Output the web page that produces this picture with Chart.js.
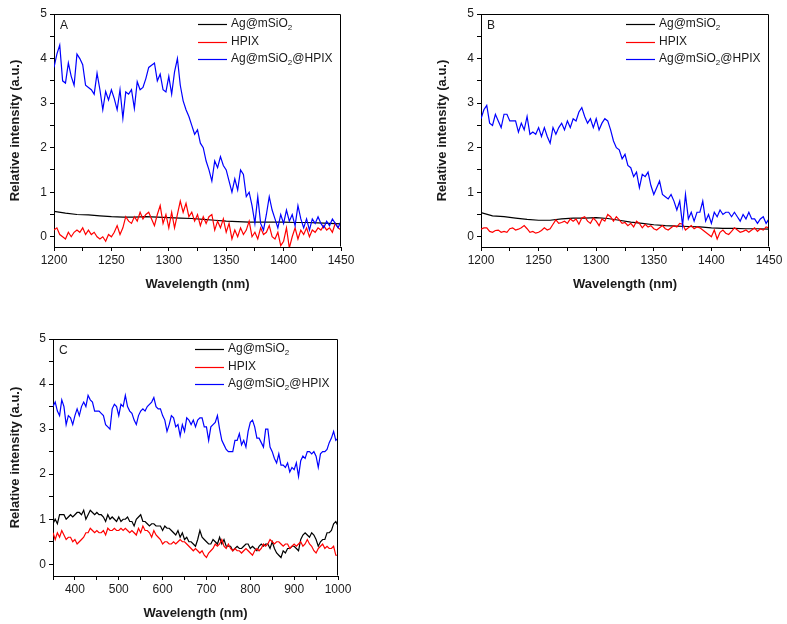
<!DOCTYPE html>
<html>
<head>
<meta charset="utf-8">
<script src="https://cdn.jsdelivr.net/npm/chart.js@4.4.0/dist/chart.umd.min.js"></script>
<style>
  html, body { margin: 0; padding: 0; background: #fff; }
  body { position: relative; width: 787px; height: 624px; overflow: hidden; }
  canvas { position: absolute; }
  #panelA { left: 0; top: 0; }
  #panelB { left: 427px; top: 0; }
  #panelC { left: 0; top: 325px; }
</style>
</head>
<body>
<canvas id="panelA" width="360" height="296"></canvas>
<canvas id="panelB" width="360" height="296"></canvas>
<canvas id="panelC" width="360" height="300"></canvas>
<script>
// ── DATA ──

const SERIES_LABELS = ['Ag@mSiO₂', 'HPIX', 'Ag@mSiO₂@HPIX'];

// wavelengths (nm), panels A and B
const WL_AB = [
  1200, 1202.5, 1205, 1207.5, 1210, 1212.5, 1215, 1217.5, 1220, 1222.5,
  1225, 1227.5, 1230, 1232.5, 1235, 1237.5, 1240, 1242.5, 1245, 1247.5,
  1250, 1252.5, 1255, 1257.5, 1260, 1262.5, 1265, 1267.5, 1270, 1272.5,
  1275, 1277.5, 1280, 1282.5, 1285, 1287.5, 1290, 1292.5, 1295, 1297.5,
  1300, 1302.5, 1305, 1307.5, 1310, 1312.5, 1315, 1317.5, 1320, 1322.5,
  1325, 1327.5, 1330, 1332.5, 1335, 1337.5, 1340, 1342.5, 1345, 1347.5,
  1350, 1352.5, 1355, 1357.5, 1360, 1362.5, 1365, 1367.5, 1370, 1372.5,
  1375, 1377.5, 1380, 1382.5, 1385, 1387.5, 1390, 1392.5, 1395, 1397.5,
  1400, 1402.5, 1405, 1407.5, 1410, 1412.5, 1415, 1417.5, 1420, 1422.5,
  1425, 1427.5, 1430, 1432.5, 1435, 1437.5, 1440, 1442.5, 1445, 1447.5,
  1450
];
const WL_AB_COARSE = [
  1200, 1210, 1220, 1230, 1240, 1250, 1260, 1270, 1280, 1290,
  1300, 1310, 1320, 1330, 1340, 1350, 1360, 1370, 1380, 1390,
  1400, 1410, 1420, 1430, 1440, 1450
];

// wavelengths (nm), panel C
const WL_C = [
  350, 355, 360, 365, 370, 375, 380, 385, 390, 395,
  400, 405, 410, 415, 420, 425, 430, 435, 440, 445,
  450, 455, 460, 465, 470, 475, 480, 485, 490, 495,
  500, 505, 510, 515, 520, 525, 530, 535, 540, 545,
  550, 555, 560, 565, 570, 575, 580, 585, 590, 595,
  600, 605, 610, 615, 620, 625, 630, 635, 640, 645,
  650, 655, 660, 665, 670, 675, 680, 685, 690, 695,
  700, 705, 710, 715, 720, 725, 730, 735, 740, 745,
  750, 755, 760, 765, 770, 775, 780, 785, 790, 795,
  800, 805, 810, 815, 820, 825, 830, 835, 840, 845,
  850, 855, 860, 865, 870, 875, 880, 885, 890, 895,
  900, 905, 910, 915, 920, 925, 930, 935, 940, 945,
  950, 955, 960, 965, 970, 975, 980, 985, 990, 995,
  1000
];

// panel A
const A_AGMSIO2 = [
  0.57, 0.53, 0.5, 0.49, 0.47, 0.45, 0.44, 0.44, 0.45, 0.44,
  0.43, 0.42, 0.41, 0.39, 0.37, 0.35, 0.34, 0.33, 0.33, 0.33,
  0.33, 0.32, 0.32, 0.31, 0.3, 0.29
];
const A_HPIX = [
  0.15, 0.2, 0.05, 0.0, -0.05, 0.1, 0.0, 0.1, 0.15, 0.1,
  0.2, 0.05, 0.15, 0.05, 0.1, 0.0, -0.05, 0.0, -0.1, 0.05,
  0.0, 0.1, 0.25, 0.05, 0.2, 0.45, 0.35, 0.3, 0.45, 0.35,
  0.55, 0.4, 0.5, 0.55, 0.4, 0.25, 0.5, 0.7, 0.3, 0.5,
  0.2, 0.55, 0.2, 0.5, 0.8, 0.55, 0.75, 0.45, 0.55, 0.35,
  0.5, 0.25, 0.45, 0.3, 0.45, 0.5, 0.15, 0.35, 0.2, 0.4,
  0.1, 0.3, -0.05, 0.15, 0.0, 0.2, 0.05, 0.15, 0.35, 0.0,
  0.1, -0.05, 0.2, 0.05, 0.1, 0.25, 0.0, -0.05, 0.1, -0.2,
  -0.1, 0.2, -0.25, 0.0, 0.2, -0.05, 0.15, 0.05, 0.2, 0.0,
  0.15, 0.1, 0.2, 0.15, 0.25, 0.15, 0.2, 0.1, 0.3, 0.2,
  0.15
];
const A_AGMSIO2_HPIX = [
  3.8, 4.1, 4.3, 3.5, 3.45, 3.9, 3.6, 3.4, 4.1, 4.0,
  3.86, 3.4, 3.35, 3.3, 3.2, 3.67, 3.3, 2.85, 3.26, 3.07,
  3.3, 3.1, 2.85, 3.3, 2.66, 3.25, 3.2, 3.3, 2.88, 3.48,
  3.3, 3.35, 3.55, 3.8, 3.85, 3.9, 3.5, 3.65, 3.3, 3.25,
  3.6, 3.2, 3.7, 4.0, 3.4, 3.05, 2.85, 2.7, 2.5, 2.3,
  2.4, 2.1, 2.0, 1.7, 1.5, 1.25, 1.7, 1.55, 1.8, 1.6,
  1.5, 1.25, 1.0, 1.3, 1.05, 1.5, 1.4, 0.9, 1.0, 0.7,
  0.3, 0.9, 0.3, 0.15, 0.5, 0.9, 0.6, 0.4, 0.2, 0.5,
  0.3, 0.6, 0.35, 0.5, 0.25, 0.7, 0.4, 0.2, 0.4, 0.15,
  0.4, 0.3, 0.45, 0.3, 0.2, 0.35, 0.25, 0.4, 0.3, 0.2,
  0.35
];

// panel B
const B_AGMSIO2 = [
  0.54, 0.47, 0.45, 0.42, 0.39, 0.37, 0.37, 0.4, 0.42, 0.42,
  0.43, 0.41, 0.37, 0.33, 0.3, 0.27, 0.25, 0.24, 0.23, 0.22,
  0.2, 0.19, 0.19, 0.18, 0.18, 0.17
];
const B_HPIX = [
  0.17, 0.2, 0.2, 0.12, 0.1, 0.14, 0.15, 0.1, 0.12, 0.1,
  0.18, 0.2, 0.15, 0.17, 0.2, 0.25, 0.18, 0.1, 0.12, 0.08,
  0.1, 0.14, 0.2, 0.15, 0.18, 0.28, 0.38, 0.3, 0.32, 0.35,
  0.3, 0.4, 0.35, 0.4, 0.28, 0.42, 0.45, 0.35, 0.3, 0.42,
  0.35, 0.25, 0.4, 0.35, 0.5, 0.45, 0.35, 0.45, 0.38, 0.3,
  0.32, 0.25, 0.3, 0.22, 0.35, 0.3, 0.2, 0.28, 0.22, 0.25,
  0.18, 0.15, 0.2, 0.25, 0.18, 0.15, 0.2, 0.25, 0.22, 0.3,
  0.28, 0.15, 0.2, 0.25, 0.18, 0.22, 0.2, 0.15, 0.1, 0.05,
  0.0, 0.15, -0.05, 0.1, 0.15, 0.08, 0.05, 0.12, 0.2, 0.15,
  0.1, 0.12, 0.15, 0.1, 0.15, 0.2, 0.12, 0.18, 0.15, 0.22,
  0.2
];
const B_AGMSIO2_HPIX = [
  2.65, 2.85, 2.95, 2.55, 2.5, 2.75, 2.6, 2.45, 2.75, 2.75,
  2.6, 2.6, 2.6, 2.35, 2.55, 2.4, 2.7, 2.3, 2.35, 2.3,
  2.45, 2.25, 2.45, 2.25, 2.1, 2.45, 2.3, 2.45, 2.55, 2.4,
  2.6, 2.45, 2.65, 2.6, 2.8, 2.9, 2.7, 2.55, 2.65, 2.45,
  2.65, 2.4, 2.55, 2.65, 2.6, 2.4, 2.15, 2.0, 1.95, 1.75,
  1.85, 1.6, 1.55, 1.35, 1.45, 1.1, 1.4, 1.35, 1.45, 1.15,
  0.95, 1.1, 1.25, 0.95, 0.9, 0.85, 0.95, 0.8, 0.6, 0.8,
  0.25, 0.95, 0.4, 0.55, 0.35, 0.55, 0.55, 0.8, 0.35, 0.5,
  0.3, 0.55, 0.45, 0.6, 0.5, 0.55, 0.55, 0.45, 0.55, 0.45,
  0.35, 0.5, 0.4, 0.55, 0.4, 0.4, 0.3, 0.4, 0.45, 0.3,
  0.4
];

// panel C
const C_AGMSIO2 = [
  0.9, 1.0, 0.9, 1.1, 1.1, 1.1, 1.0, 1.05, 1.1, 1.05,
  1.1, 1.15, 1.15, 1.1, 1.2, 1.0, 1.1, 1.2, 1.15, 1.1,
  1.15, 1.1, 1.1, 1.05, 0.95, 1.1, 1.0, 1.05, 1.0, 0.95,
  1.05, 0.95, 1.0, 1.0, 1.05, 0.95, 0.95, 0.85, 1.0, 1.05,
  1.1, 0.95, 0.95, 0.9, 0.85, 0.9, 0.9, 0.85, 0.85, 0.85,
  0.75, 0.85, 0.8, 0.8, 0.75, 0.7, 0.65, 0.75, 0.6, 0.7,
  0.55, 0.6, 0.5, 0.5, 0.45, 0.4, 0.55, 0.75, 0.6, 0.55,
  0.5, 0.45, 0.45, 0.55, 0.5, 0.45, 0.6, 0.45, 0.55, 0.4,
  0.4, 0.4, 0.3, 0.35, 0.4, 0.35, 0.35, 0.4, 0.45, 0.45,
  0.35, 0.4, 0.35, 0.3, 0.4, 0.45, 0.4, 0.45, 0.45, 0.35,
  0.5, 0.35, 0.25, 0.2, 0.15, 0.3, 0.25, 0.35, 0.35, 0.4,
  0.4, 0.35, 0.3, 0.55, 0.65, 0.7, 0.65, 0.6, 0.7, 0.65,
  0.55, 0.4, 0.5, 0.55, 0.55, 0.7, 0.7, 0.75, 0.9, 0.95,
  0.85
];
const C_HPIX = [
  0.7, 0.55, 0.7, 0.6, 0.75, 0.65, 0.55, 0.6, 0.6, 0.5,
  0.55, 0.45, 0.5, 0.55, 0.6, 0.7, 0.7, 0.8, 0.75, 0.7,
  0.75, 0.7, 0.7, 0.75, 0.65, 0.8, 0.75, 0.75, 0.8, 0.75,
  0.75, 0.8, 0.75, 0.8, 0.75, 0.7, 0.75, 0.7, 0.65, 0.8,
  0.7, 0.85, 0.75, 0.75, 0.7, 0.6, 0.75, 0.65, 0.6, 0.55,
  0.45, 0.5, 0.5, 0.45, 0.45, 0.5, 0.45, 0.5, 0.55, 0.5,
  0.5, 0.45, 0.4, 0.35, 0.3, 0.35, 0.3, 0.25, 0.3, 0.2,
  0.15, 0.25, 0.3, 0.35, 0.45, 0.4, 0.45, 0.55, 0.4, 0.35,
  0.45, 0.35, 0.3, 0.35, 0.3, 0.3, 0.25, 0.3, 0.35, 0.3,
  0.25, 0.2, 0.3, 0.35, 0.3, 0.35, 0.45, 0.4, 0.45, 0.55,
  0.5, 0.45, 0.5, 0.5, 0.45, 0.4, 0.45, 0.45, 0.35, 0.4,
  0.45, 0.4, 0.45, 0.5, 0.4, 0.45, 0.55, 0.45, 0.4, 0.3,
  0.25, 0.35, 0.4, 0.45, 0.35, 0.4, 0.35, 0.35, 0.4, 0.2,
  0.2
];
const C_AGMSIO2_HPIX = [
  3.5, 3.6, 3.4, 3.3, 3.65, 3.5, 3.1, 3.3, 3.25, 3.1,
  3.3, 3.45, 3.3, 3.5, 3.6, 3.5, 3.75, 3.65, 3.6, 3.4,
  3.4, 3.4, 3.35, 3.3, 3.1, 3.05, 3.0, 3.45, 3.55, 3.5,
  3.3, 3.55, 3.5, 3.75, 3.5, 3.4, 3.35, 3.2, 3.1, 3.3,
  3.4, 3.45, 3.4, 3.5, 3.55, 3.6, 3.7, 3.5, 3.45, 3.45,
  3.3, 3.2, 2.95, 3.1, 3.3, 3.25, 3.05, 3.1, 2.85, 3.1,
  2.95, 3.25, 3.2, 3.1, 3.2, 3.05, 3.2, 3.25, 3.25, 3.05,
  3.05, 2.75, 3.05, 3.1, 3.15, 3.3, 3.0, 2.75, 2.65, 2.55,
  2.5, 2.5, 2.5, 2.75, 2.75, 2.9, 2.65, 2.75, 2.6, 2.95,
  3.15, 3.2, 3.05, 2.8, 2.8, 2.7, 2.6, 3.0, 3.0, 2.6,
  2.5, 2.35, 2.25, 2.45, 2.2, 2.2, 2.15, 2.25, 2.05, 2.15,
  2.1, 2.25, 1.95, 2.3, 2.4, 2.35, 2.5, 2.5, 2.45, 2.5,
  2.4, 2.15, 2.45, 2.5, 2.5, 2.55, 2.7, 2.8, 2.95, 2.75,
  2.8
];

// ticks (minor every half step, labels only on majors)
const Y_TICKS   = [0, 0.5, 1, 1.5, 2, 2.5, 3, 3.5, 4, 4.5, 5];
const X_TICKS_AB = [1200, 1225, 1250, 1275, 1300, 1325, 1350, 1375, 1400, 1425, 1450];
const X_TICKS_C  = [350, 400, 450, 500, 550, 600, 650, 700, 750, 800, 850, 900, 950, 1000];

// ── STYLE ──

const FONT = "Arial, 'Liberation Sans', sans-serif";
const INK  = '#1a1a1a';
const SERIES_COLORS = ['#000000', '#ff0000', '#0000ff'];
const LEGEND_ROWS = [10, 28, 45];

Chart.defaults.font.family = FONT;
Chart.defaults.color = INK;

function drawSubLabel(ctx, text, x, y) {
  let cx = x;
  text.split(/(₂)/).forEach(part => {
    if (!part) return;
    if (part === '₂') {
      ctx.font = '8px ' + FONT;
      ctx.fillText('2', cx, y + 4);
      cx += ctx.measureText('2').width;
    } else {
      ctx.font = '12px ' + FONT;
      ctx.fillText(part, cx, y);
      cx += ctx.measureText(part).width;
    }
  });
}

const panelDecor = {
  id: 'panelDecor',
  afterDraw(chart) {
    const { ctx, chartArea: { left, top, right, bottom } } = chart;
    const opts = chart.options.plugins.panelDecor;
    ctx.save();
    // frame on top and right
    ctx.strokeStyle = '#000';
    ctx.lineWidth = 1;
    ctx.beginPath();
    ctx.moveTo(Math.round(left) + 0.5, Math.round(top) + 0.5);
    ctx.lineTo(Math.round(right) - 0.5, Math.round(top) + 0.5);
    ctx.lineTo(Math.round(right) - 0.5, Math.round(bottom) - 0.5);
    ctx.stroke();
    // panel letter
    ctx.fillStyle = INK;
    ctx.textBaseline = 'middle';
    ctx.font = '12px ' + FONT;
    ctx.fillText(opts.letter, left + 6, top + 12);
    // legend
    chart.data.datasets.forEach((ds, i) => {
      const y = top + LEGEND_ROWS[i];
      ctx.strokeStyle = ds.borderColor;
      ctx.lineWidth = 1.2;
      ctx.beginPath();
      ctx.moveTo(right - 143, y + 0.5);
      ctx.lineTo(right - 114, y + 0.5);
      ctx.stroke();
      ctx.fillStyle = INK;
      drawSubLabel(ctx, ds.label, right - 110, y);
    });
    ctx.restore();
  }
};

function buildPanel(id, cfg) {
  const series = [
    { wl: cfg.wlBlack, values: cfg.black, order: 2 },
    { wl: cfg.wl, values: cfg.red, order: 1 },
    { wl: cfg.wl, values: cfg.blue, order: 0 }
  ];
  const datasets = series.map((s, i) => ({
    label: SERIES_LABELS[i],
    data: s.wl.map((x, j) => ({ x, y: s.values[j] })),
    borderColor: SERIES_COLORS[i],
    backgroundColor: 'transparent',
    borderWidth: 1.2,
    pointRadius: 0,
    tension: 0,
    order: s.order
  }));

  return new Chart(document.getElementById(id), {
    type: 'line',
    data: { datasets },
    options: {
      responsive: false,
      animation: false,
      devicePixelRatio: 1,
      layout: { padding: { top: cfg.padTop, right: cfg.padRight, left: 0, bottom: 0 } },
      plugins: {
        legend: { display: false },
        tooltip: { enabled: false },
        panelDecor: { letter: cfg.letter }
      },
      scales: {
        x: {
          type: 'linear',
          min: cfg.xMin,
          max: cfg.xMax,
          afterBuildTicks: axis => { axis.ticks = cfg.xTicks.map(value => ({ value })); },
          afterFit: axis => { axis.height = 49; },
          ticks: {
            autoSkip: false,
            maxRotation: 0,
            padding: 2,
            font: { size: 12 },
            color: INK,
            callback: v => (v % cfg.xMajor === 0 ? String(v) : '')
          },
          grid: { drawOnChartArea: false, drawTicks: true, tickLength: 4, tickColor: '#000' },
          border: { display: true, color: '#000', width: 1 },
          title: {
            display: true,
            text: 'Wavelength (nm)',
            font: { size: 13, weight: 'bold' },
            color: INK,
            padding: { top: 0, bottom: 4 }
          }
        },
        y: {
          min: cfg.yMin,
          max: 5,
          afterBuildTicks: axis => { axis.ticks = Y_TICKS.map(value => ({ value })); },
          afterFit: axis => { axis.width = cfg.yWidth; },
          ticks: {
            autoSkip: false,
            padding: 3,
            font: { size: 12 },
            color: INK,
            callback: v => (Number.isInteger(v) ? String(v) : '')
          },
          grid: { drawOnChartArea: false, drawTicks: true, tickLength: 4, tickColor: '#000' },
          border: { display: true, color: '#000', width: 1 },
          title: {
            display: true,
            text: 'Relative intensity (a.u.)',
            font: { size: 13, weight: 'bold' },
            color: INK,
            padding: { top: 8, bottom: 0 }
          }
        }
      }
    },
    plugins: [panelDecor]
  });
}

buildPanel('panelA', {
  letter: 'A', wl: WL_AB, wlBlack: WL_AB_COARSE,
  black: A_AGMSIO2, red: A_HPIX, blue: A_AGMSIO2_HPIX,
  xMin: 1200, xMax: 1450, xTicks: X_TICKS_AB, xMajor: 50,
  yMin: -0.23, yWidth: 54, padTop: 14, padRight: 19
});

buildPanel('panelB', {
  letter: 'B', wl: WL_AB, wlBlack: WL_AB_COARSE,
  black: B_AGMSIO2, red: B_HPIX, blue: B_AGMSIO2_HPIX,
  xMin: 1200, xMax: 1450, xTicks: X_TICKS_AB, xMajor: 50,
  yMin: -0.23, yWidth: 54, padTop: 14, padRight: 18
});

buildPanel('panelC', {
  letter: 'C', wl: WL_C, wlBlack: WL_C,
  black: C_AGMSIO2, red: C_HPIX, blue: C_AGMSIO2_HPIX,
  xMin: 350, xMax: 1000, xTicks: X_TICKS_C, xMajor: 100,
  yMin: -0.26, yWidth: 53, padTop: 14, padRight: 22
});
</script>
</body>
</html>
